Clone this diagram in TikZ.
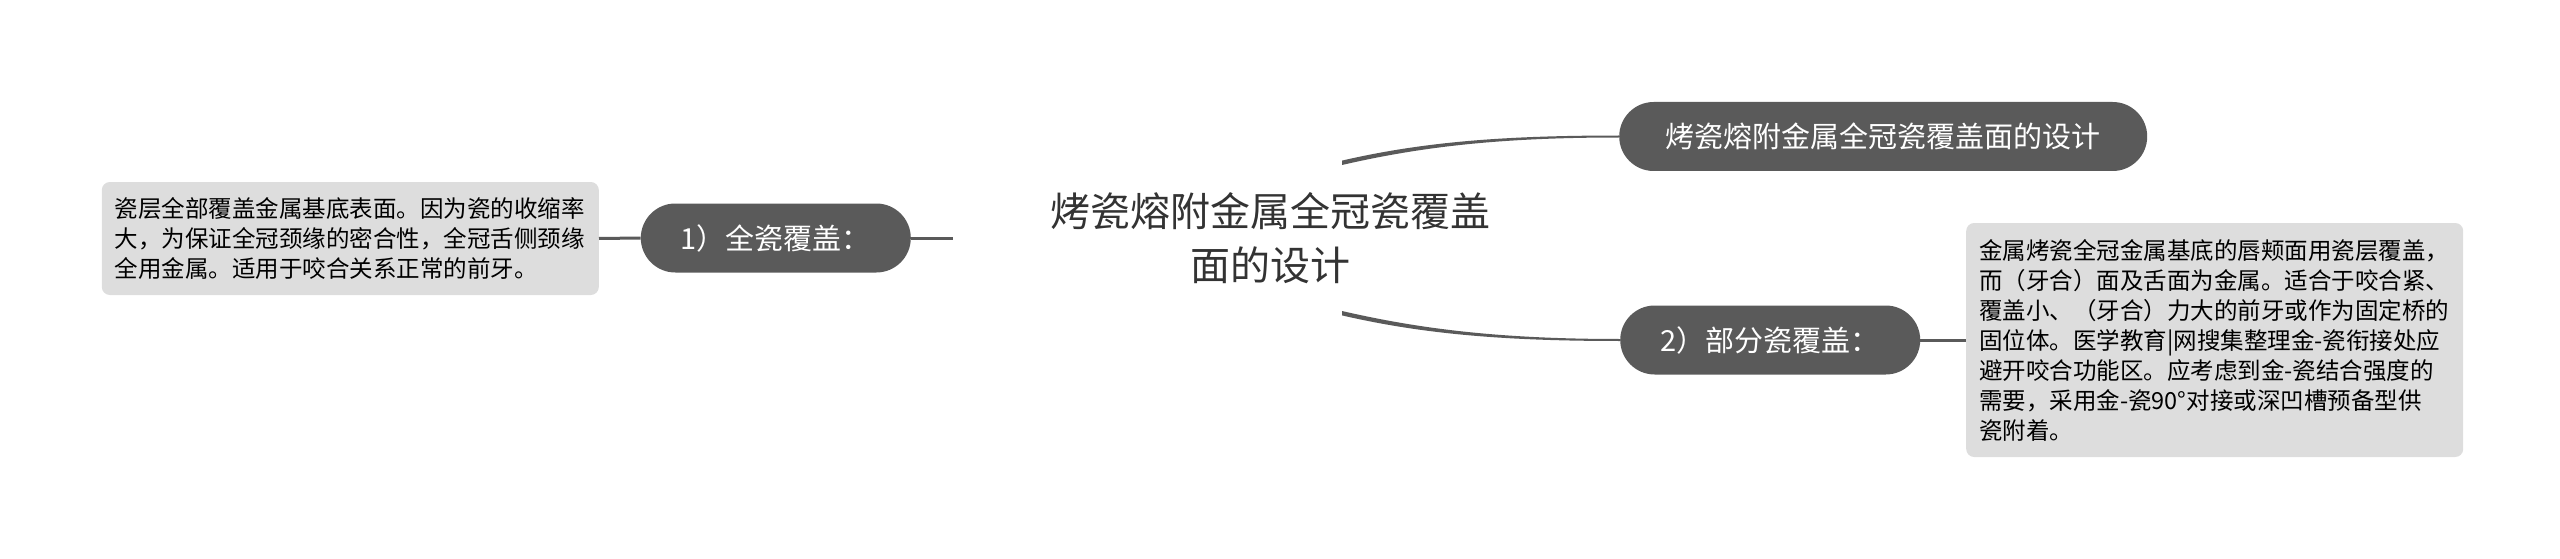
\documentclass[tikz,border=0pt]{standalone}
\usepackage{fontspec}
\setmainfont{Noto Sans CJK SC}
\definecolor{branch}{HTML}{5A5A5A}
\definecolor{note}{HTML}{DDDDDD}
\definecolor{rootink}{HTML}{333333}
\begin{document}
\begin{tikzpicture}[x=1pt,y=-1pt,
  pill/.style={fill=branch,text=white,rounded corners=34.5pt,minimum height=69pt,inner xsep=35pt,font=\fontsize{29}{34}\selectfont},
  notebox/.style={fill=note,rounded corners=8pt,text width=471pt,inner xsep=13pt,align=left,font=\fontsize{23.5}{30}\selectfont},
  link/.style={branch,line width=3pt}]
  \useasboundingbox (0,0) rectangle (2560,559);
  \node[minimum width=634pt,minimum height=150pt,align=center,text=rootink,font=\fontsize{40}{54}\selectfont] (root) at (1270,238) {烤瓷熔附金属全冠瓷覆盖\\面的设计};
  \node[pill,anchor=west,minimum width=528pt] (design) at (1619,136.5) {烤瓷熔附金属全冠瓷覆盖面的设计};
  \node[pill,anchor=west,minimum width=300pt] (partial) at (1620,340) {2）部分瓷覆盖：};
  \node[pill,anchor=east,minimum width=270pt] (full) at (911,238) {1）全瓷覆盖：};
  \node[notebox,anchor=east,minimum height=113pt] (fullnote) at (599,238.5) {瓷层全部覆盖金属基底表面。因为瓷的收缩率\\大，为保证全冠颈缘的密合性，全冠舌侧颈缘\\全用金属。适用于咬合关系正常的前牙。};
  \node[notebox,anchor=west,minimum height=234pt] (partialnote) at (1966,340) {金属烤瓷全冠金属基底的唇颊面用瓷层覆盖，\\而（牙合）面及舌面为金属。适合于咬合紧、\\覆盖小、（牙合）力大的前牙或作为固定桥的\\固位体。医学教育|网搜集整理金-瓷衔接处应\\避开咬合功能区。应考虑到金-瓷结合强度的\\需要，采用金-瓷90°对接或深凹槽预备型供\\瓷附着。};
  \fill[branch] ([xshift=72pt,yshift=2.2pt]root.north) .. controls +(78,-18) and +(-120,0) .. ([yshift=1pt]design.west)
    -- ([yshift=-1pt]design.west) .. controls +(-120,0) and +(78,-18) .. ([xshift=72pt,yshift=-2.2pt]root.north) -- cycle;
  \fill[branch] ([xshift=72pt,yshift=2.2pt]root.south) .. controls +(78,18) and +(-120,0) .. ([yshift=1pt]partial.west)
    -- ([yshift=-1pt]partial.west) .. controls +(-120,0) and +(78,18) .. ([xshift=72pt,yshift=-2.2pt]root.south) -- cycle;
  \draw[link] (root.west) -- (full.east);
  \draw[link] (full.west) -- (fullnote.east);
  \draw[link] (partial.east) -- (partialnote.west);
\end{tikzpicture}
\end{document}
